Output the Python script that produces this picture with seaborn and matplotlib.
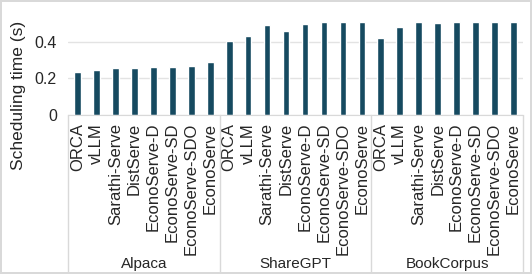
import matplotlib
matplotlib.use("Agg")
import matplotlib.pyplot as plt
import matplotlib.transforms as mtransforms
import seaborn as sns
import pandas as pd

datasets = ["Alpaca", "ShareGPT", "BookCorpus"]
methods = ["ORCA", "vLLM", "Sarathi-Serve", "DistServe", "EconoServe-D",
           "EconoServe-SD", "EconoServe-SDO", "EconoServe"]
alpaca_times = [0.233, 0.248, 0.257, 0.259, 0.261, 0.262, 0.270, 0.288]
sharegpt_times = [0.404, 0.435, 0.496, 0.463, 0.503, 0.509, 0.510, 0.512]
bookcorpus_times = [0.422, 0.485, 0.510, 0.505, 0.512, 0.512, 0.512, 0.512]

rows = []
for ds, vals in zip(datasets, [alpaca_times, sharegpt_times, bookcorpus_times]):
    for m, v in zip(methods, vals):
        rows.append({"key": ds + "|" + m, "dataset": ds, "method": m, "time": v})
df = pd.DataFrame(rows)

sns.set_style("white")
plt.rcParams["font.family"] = ["Liberation Sans", "DejaVu Sans"]

fig = plt.figure(figsize=(5.32, 2.74), dpi=100)
fig.patch.set_edgecolor("#d9d9d9")
fig.patch.set_linewidth(1.5)
ax = fig.add_axes([0.128, 0.582, 0.855, 0.363])

sns.barplot(data=df, x="key", y="time", color="#164a60", width=0.35,
            saturation=1, ax=ax)

ax.set_ylim(0, 0.55)
ax.set_yticks([0, 0.2, 0.4])
ax.set_yticklabels(["0", "0.2", "0.4"], fontsize=11.5)
ax.yaxis.grid(True, color="#e3e3e3", linewidth=1)
ax.set_axisbelow(True)
ax.set_xticks(range(len(df)))
ax.set_xticklabels(df["method"], rotation=90, fontsize=12)
ax.tick_params(axis="both", length=0)
ax.tick_params(axis="x", pad=6)
ax.tick_params(axis="y", pad=8)
ax.set_xlim(-0.5, len(df) - 0.5)
ax.set_xlabel("")
ax.set_ylabel("")
for s in ["top", "right", "left"]:
    ax.spines[s].set_visible(False)
ax.spines["bottom"].set_color("#d9d9d9")

# group separators and labels below the axis
trans = mtransforms.blended_transform_factory(ax.transData, fig.transFigure)
n = len(methods)
for i in range(len(datasets) + 1):
    xpos = i * n - 0.5
    ax.plot([xpos, xpos], [0.582, 0.0], color="#d9d9d9", linewidth=1,
            transform=trans, clip_on=False)
for i, ds in enumerate(datasets):
    ax.text(i * n + (n - 1) / 2, 0.012, ds, transform=trans, ha="center",
            va="bottom", fontsize=11)

fig.text(0.034, 0.653, "Scheduling time (s)", rotation=90, ha="center",
         va="center", fontsize=12.5)

fig.savefig("out.png", dpi=100)
